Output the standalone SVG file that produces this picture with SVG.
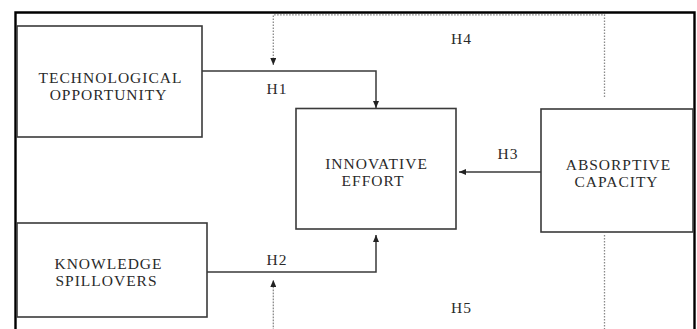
<svg xmlns="http://www.w3.org/2000/svg" width="697" height="329" viewBox="0 0 697 329">
  <style>
    .box { fill: #ffffff; stroke: #3a3a3a; stroke-width: 1.6; }
    .lbl { font-family: "Liberation Serif", "Times New Roman", serif; font-size: 15.5px; letter-spacing: 1px; fill: #2a2a2a; text-anchor: middle; }
    .conn { fill: none; stroke: #3a3a3a; stroke-width: 1.5; }
    .dot { fill: none; stroke: #8a8a8a; stroke-width: 1.3; stroke-dasharray: 1.6 1.4; }
    .frame { fill: none; stroke: #000000; stroke-width: 2.4; }
  </style>
  <defs>
    <marker id="arr" viewBox="0 0 7 6" refX="7" refY="3" markerWidth="7" markerHeight="6" markerUnits="userSpaceOnUse" orient="auto">
      <path d="M0,0 L7,3 L0,6 z" fill="#222222" stroke="none"/>
    </marker>
  </defs>
  <rect x="0" y="0" width="697" height="329" fill="#ffffff"/>
  <!-- frame -->
  <path class="frame" d="M15.5,340 V12.5 H694.5 V340"/>

  <g id="connectors">
    <path class="conn" d="M202,71 H376 V108" marker-end="url(#arr)"/>
    <path class="conn" d="M207,272 H376 V235" marker-end="url(#arr)"/>
    <path class="conn" d="M541,172 H459" marker-end="url(#arr)"/>
    <path class="dot" d="M604.5,97 V14.8 H273.3 V65" marker-end="url(#arr)"/>
    <path class="dot" d="M604.5,235 V345 H273.3 V280" marker-end="url(#arr)"/>
    <text class="lbl" x="277" y="94">H1</text>
    <text class="lbl" x="277" y="265">H2</text>
    <text class="lbl" x="508" y="159">H3</text>
    <text class="lbl" x="461.5" y="44">H4</text>
    <text class="lbl" x="461.5" y="313">H5</text>
  </g>

  <g id="tech">
    <rect class="box" x="17" y="26" width="185" height="111"/>
    <text class="lbl" x="110.5" y="82.5">TECHNOLOGICAL</text>
    <text class="lbl" x="108.5" y="100">OPPORTUNITY</text>
  </g>
  <g id="knowledge">
    <rect class="box" x="17" y="223" width="190" height="94"/>
    <text class="lbl" x="108.5" y="268.5">KNOWLEDGE</text>
    <text class="lbl" x="106.5" y="286">SPILLOVERS</text>
  </g>
  <g id="innovative">
    <rect class="box" x="296" y="108.5" width="160" height="120.5"/>
    <text class="lbl" x="376.5" y="168.5">INNOVATIVE</text>
    <text class="lbl" x="373" y="186">EFFORT</text>
  </g>
  <g id="absorptive">
    <rect class="box" x="541" y="109" width="152" height="123"/>
    <text class="lbl" x="618.5" y="169.5">ABSORPTIVE</text>
    <text class="lbl" x="616.5" y="187">CAPACITY</text>
  </g>
</svg>
